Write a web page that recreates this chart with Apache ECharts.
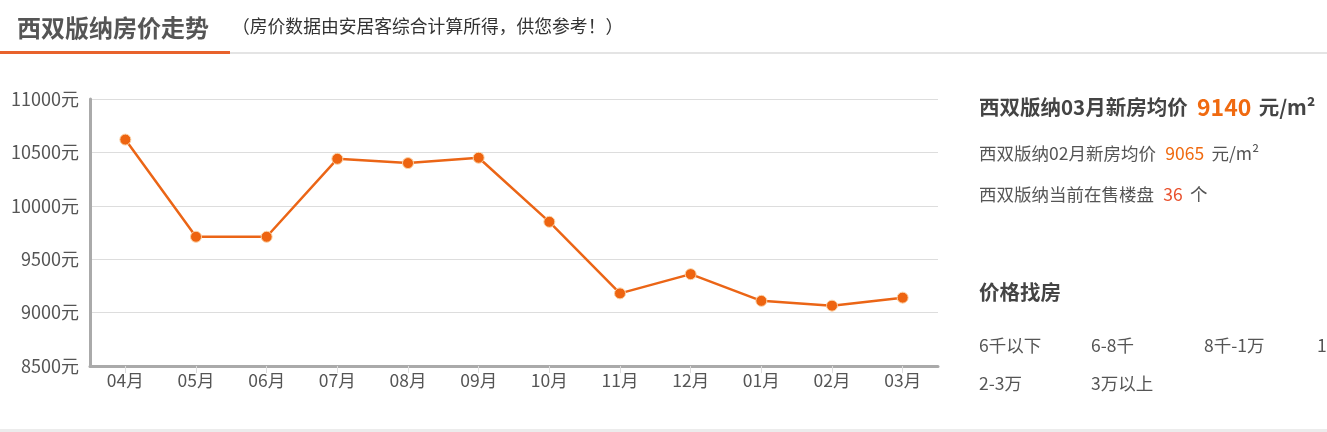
<!DOCTYPE html>
<html><head><meta charset="utf-8">
<script src="https://cdn.jsdelivr.net/npm/echarts@6/dist/echarts.min.js"></script>
<style>html,body{margin:0;padding:0;background:#fff;}#c{width:1327px;height:432px;}</style>
</head><body><div id="c"></div>
<script>
const months = ['04月','05月','06月','07月','08月','09月','10月','11月','12月','01月','02月','03月'];
const prices = [10620, 9710, 9710, 10440, 10400, 10450, 9850, 9180, 9360, 9110, 9065, 9140];
const yTicks = [8500, 9000, 9500, 10000, 10500, 11000];
const priceLinks1 = ['6千以下','6-8千','8千-1万','1-2万'];
const priceLinks2 = ['2-3万','3万以上'];

const FONT = '"Noto Sans CJK SC", "Microsoft YaHei", sans-serif';
const chart = echarts.init(document.getElementById('c'), null, {renderer:'canvas'});
const gfx = [
  {type:'rect', shape:{x:0,y:52,width:1327,height:2}, style:{fill:'#e4e4e4'}, silent:true},
  {type:'rect', shape:{x:0,y:51,width:230,height:3}, style:{fill:'#e8622c'}, silent:true},
  {type:'rect', shape:{x:0,y:429,width:1327,height:3}, style:{fill:'#ececec'}, silent:true},
  {type:'text', left:17, top:16, style:{text:'西双版纳房价走势', fill:'#555', font:'bold 24px '+FONT}},
  {type:'text', left:232, top:17, style:{text:'（房价数据由安居客综合计算所得，供您参考！）', fill:'#333', font:'17.8px '+FONT}},
  {type:'text', left:979, top:96, style:{
    text:'{a|西双版纳03月新房均价} {b|9140} {a|元/m²}',
    rich:{a:{fill:'#444', font:'bold 20.5px '+FONT}, b:{fill:'#f06a10', font:'bold 23px '+FONT, padding:[0,4,0,6]}}}},
  {type:'text', left:979, top:145, style:{
    text:'{a|西双版纳02月新房均价} {b|9065} {a|元/m²}',
    rich:{a:{fill:'#555', font:'17.5px '+FONT}, b:{fill:'#f06a10', font:'17.5px '+FONT, padding:[0,4,0,6]}}}},
  {type:'text', left:979, top:186, style:{
    text:'{a|西双版纳当前在售楼盘} {b|36} {a|个}',
    rich:{a:{fill:'#555', font:'17.5px '+FONT}, b:{fill:'#e8502c', font:'17.5px '+FONT, padding:[0,4,0,6]}}}},
  {type:'text', left:979, top:282, style:{text:'价格找房', fill:'#444', font:'bold 20.5px '+FONT}}
];
const colX = [979, 1091, 1204, 1317];
priceLinks1.forEach((t,i)=>gfx.push({type:'text', left:colX[i], top:337, style:{text:t, fill:'#555', font:'17.5px '+FONT}}));
priceLinks2.forEach((t,i)=>gfx.push({type:'text', left:colX[i], top:375, style:{text:t, fill:'#555', font:'17.5px '+FONT}}));

chart.setOption({
  animation:false,
  backgroundColor:'#fff',
  graphic: gfx,
  grid:{left:90, right:389, top:99, bottom:66, containLabel:false},
  xAxis:{
    type:'category', data:months, boundaryGap:true,
    axisLine:{lineStyle:{color:'#aaa', width:3}},
    axisTick:{show:true, alignWithLabel:true, length:7, lineStyle:{color:'#ddd'}},
    axisLabel:{color:'#555', fontSize:17.5, fontFamily:FONT, margin:6}
  },
  yAxis:{
    type:'value', min:yTicks[0], max:yTicks[yTicks.length-1], interval:500,
    axisLine:{show:true, lineStyle:{color:'#aaa', width:3}},
    axisTick:{show:false},
    splitLine:{lineStyle:{color:'#ddd', width:1}},
    axisLabel:{color:'#555', fontSize:18, fontFamily:FONT, margin:11, formatter: v => v + '元'}
  },
  series:[{
    type:'line', data:prices,
    symbol:'circle', symbolSize:11,
    lineStyle:{color:'#eb6516', width:2.5},
    itemStyle:{color:'#ee6410', borderColor:'#fbd3a8', borderWidth:1},
    emphasis:{disabled:true}
  }]
});
</script></body></html>
